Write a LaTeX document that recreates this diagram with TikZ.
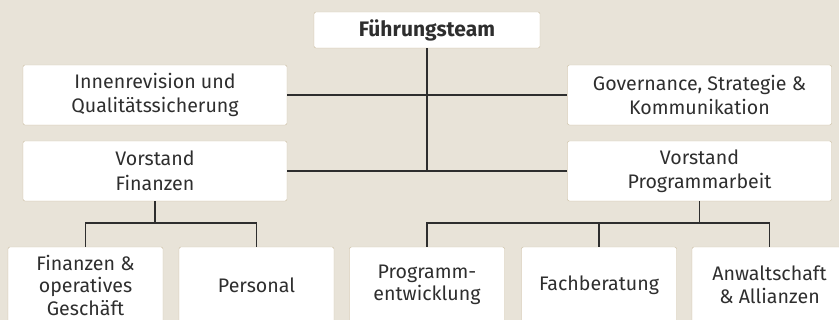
\documentclass[tikz,border=0pt]{standalone}
\usepackage{fontspec}
\setmainfont{Fira Sans}
\definecolor{paper}{HTML}{E8E3D8}
\definecolor{boxline}{HTML}{C9BB9E}
\definecolor{ink}{HTML}{2E2E2E}
\begin{document}
\begin{tikzpicture}[x=1pt,y=-1pt,
    box/.style={draw=boxline,fill=white,rounded corners=2pt,align=center,
        text=ink,inner sep=0pt,font=\fontsize{19.6}{24.5}\selectfont},
    unit/.style={box,minimum width=264pt,minimum height=60pt},
    team/.style={box,minimum width=155pt,minimum height=76pt,font=\fontsize{19.6}{22.5}\selectfont},
    link/.style={draw=ink,line width=1.1pt}]
                \fill[paper] (0,0) rectangle (839,320);
                \useasboundingbox (0,0) rectangle (839,320);
                % top levels
                \node[box,minimum width=226pt,minimum height=36pt,font=\fontsize{21}{25}\selectfont\bfseries] (lead) at (427,30) {Führungsteam};
                \node[unit] (revision) at (155,95) {Innenrevision und\\Qualitätssicherung};
                \node[unit] (governance) at (699.5,95) {Governance, Strategie \&\\Kommunikation};
                \node[unit] (finanz) at (155,171) {Vorstand\\Finanzen};
                \node[unit] (programm) at (699.5,171) {Vorstand\\Programmarbeit};
                % teams
                \node[team] (geschaeft) at (85.5,285) {Finanzen \&\\operatives\\Geschäft};
                \node[team] (personal) at (256.5,285) {Personal};
                \node[team] (entwicklung) at (427,285) {Programm-\\entwicklung};
                \node[team] (fachberatung) at (599,285) {Fachberatung};
                \node[team] (anwalt) at (769.5,285) {Anwaltschaft\\\&~Allianzen};
                % connectors
                \coordinate (fbus) at (155,223);
                \coordinate (pbus) at (699.5,223);
                \draw[link] (lead.south) -- (lead.south |- finanz.east);
                \draw[link] (revision.east) -- (governance.west);
                \draw[link] (finanz.east) -- (programm.west);
                \draw[link] (finanz.south) -- (fbus);
                \draw[link] (geschaeft.north) |- (fbus) -| (personal.north);
                \draw[link] (programm.south) -- (pbus);
                \draw[link] (entwicklung.north) |- (pbus) -| (anwalt.north);
                \draw[link] (fachberatung.north) -- (fachberatung.north |- pbus);
\end{tikzpicture}
\end{document}
